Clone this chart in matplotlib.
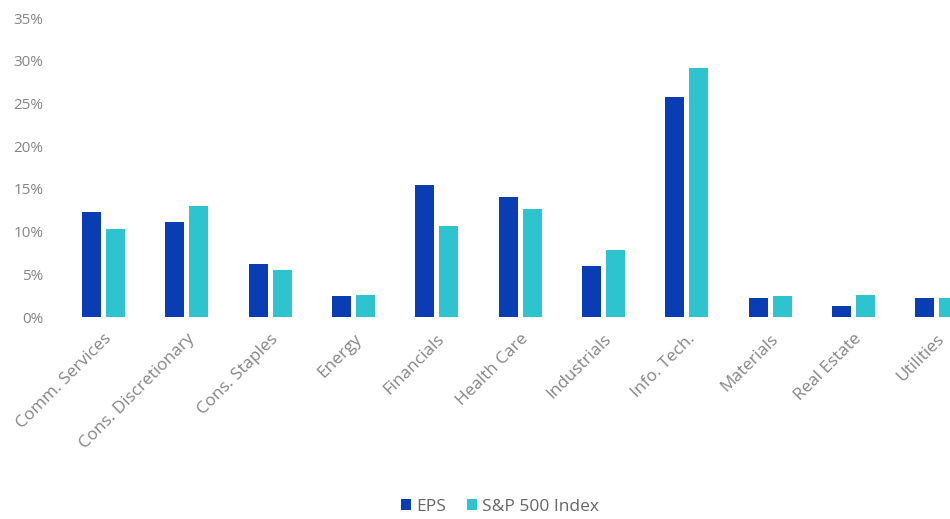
import matplotlib.pyplot as plt
import numpy as np

sectors = ["Comm. Services", "Cons. Discretionary", "Cons. Staples", "Energy",
           "Financials", "Health Care", "Industrials", "Info. Tech.",
           "Materials", "Real Estate", "Utilities"]
eps = [12.3, 11.1, 6.2, 2.45, 15.5, 14.1, 6.0, 25.8, 2.25, 1.35, 2.25]
sp500 = [10.3, 13.0, 5.5, 2.6, 10.7, 12.65, 7.8, 29.2, 2.45, 2.6, 2.25]
yticks = [0, 5, 10, 15, 20, 25, 30, 35]

plt.rcParams['font.family'] = ['Open Sans', 'DejaVu Sans']

fig = plt.figure(figsize=(9.5, 5.19), dpi=100)
# chart is cropped on the right in the reference, so axes run past the figure edge
ax = fig.add_axes([0.065, 0.389, 0.965, 0.576])

x = np.arange(len(sectors))
w = 0.23
ax.bar(x - 0.144, eps, w, color='#0A3CB4', label='EPS')
ax.bar(x + 0.144, sp500, w, color='#2EC4CF', label='S&P 500 Index')

ax.set_xlim(-0.5, 10.5)
ax.set_ylim(0, 35)
ax.set_yticks(yticks)
ax.set_yticklabels([f"{t}%" for t in yticks])
ax.set_xticks(x)
ax.set_xticklabels(sectors, rotation=45, ha='right', rotation_mode='anchor')

ax.tick_params(axis='y', length=0, pad=13, labelsize=11, labelcolor='#858585')
ax.tick_params(axis='x', length=0, pad=10, labelsize=12.3, labelcolor='#858585')
for s in ax.spines.values():
    s.set_visible(False)

fig.legend(loc='center', bbox_to_anchor=(500 / 950, 1 - 507 / 519), ncol=2,
           frameon=False, handlelength=0.6, handleheight=0.6, handletextpad=0.3,
           columnspacing=1.2, fontsize=12.5, labelcolor='#666666')

fig.savefig("out.png", dpi=100)
